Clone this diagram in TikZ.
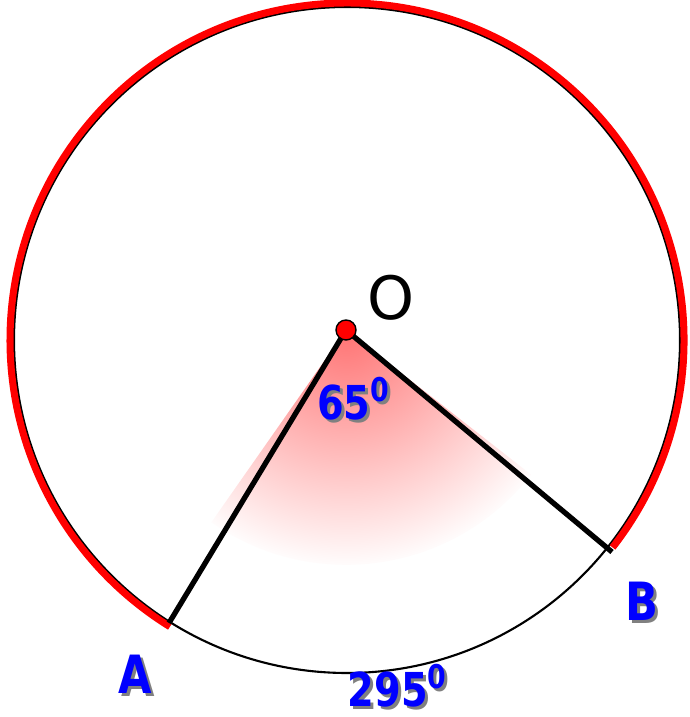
\documentclass[tikz,border=0pt]{standalone}
\usepackage{fontspec}
\usepackage{tikz}
\usetikzlibrary{calc, positioning}
\newfontfamily\lblfont{DejaVu Sans}
\newfontfamily\boldlblfont[FakeStretch=0.82]{DejaVu Sans Bold}

\begin{document}
\begin{tikzpicture}[>=latex,
    lbl/.style={text=blue, font=\boldlblfont\fontsize{13.3}{15}\selectfont, inner sep=0pt},
    lblshadow/.style={text=black!50, font=\boldlblfont\fontsize{13.3}{15}\selectfont, inner sep=0pt},
    big/.style={font=\boldlblfont\fontsize{15}{17}\selectfont}]
    \useasboundingbox (0,0) rectangle (6.89,7.17);
    % Tâm đường tròn và các điểm
    \coordinate (C) at (3.47,3.77);
    \coordinate (O) at (3.46,3.87);
    \coordinate (A) at (1.69,0.94);
    \coordinate (B) at (6.12,1.65);

    % Vùng tô góc ở tâm
    \begin{scope}
        \clip (O) -- ++(235:2.35) arc (235:322:2.35) -- cycle;
        \shade[inner color=red!55, outer color=white] (O) circle (2.4);
    \end{scope}

    % Đường tròn và cung lớn
    \draw[line width=0.6pt] (C) circle (3.33);
    \draw[red, line width=2pt] ([shift={(-38:3.37)}]C) arc (-38:238.3:3.37);

    % Hai bán kính
    \draw[line width=1.5pt] (A) -- (O) -- (B);
    \fill[red, draw=black, line width=0.4pt] (O) circle (0.1);

    % Nhãn
    \node[font=\lblfont\fontsize{17}{19}\selectfont, inner sep=0pt] (lO) at (3.91,4.19) {O};
    \node[lblshadow] (s65) at (3.57,3.15) {65\textsuperscript{0}};
    \node[lbl] (l65) at (3.54,3.18) {65\textsuperscript{0}};
    \node[lblshadow, big] (sA) at (1.38,0.40) {A};
    \node[lbl, big] (lA) at (1.35,0.43) {A};
    \node[lblshadow, big] (sB) at (6.45,1.13) {B};
    \node[lbl, big] (lB) at (6.42,1.16) {B};
    \node[lblshadow] (s295) at (4.01,0.28) {295\textsuperscript{0}};
    \node[lbl] (l295) at (3.98,0.31) {295\textsuperscript{0}};
\end{tikzpicture}
\end{document}
